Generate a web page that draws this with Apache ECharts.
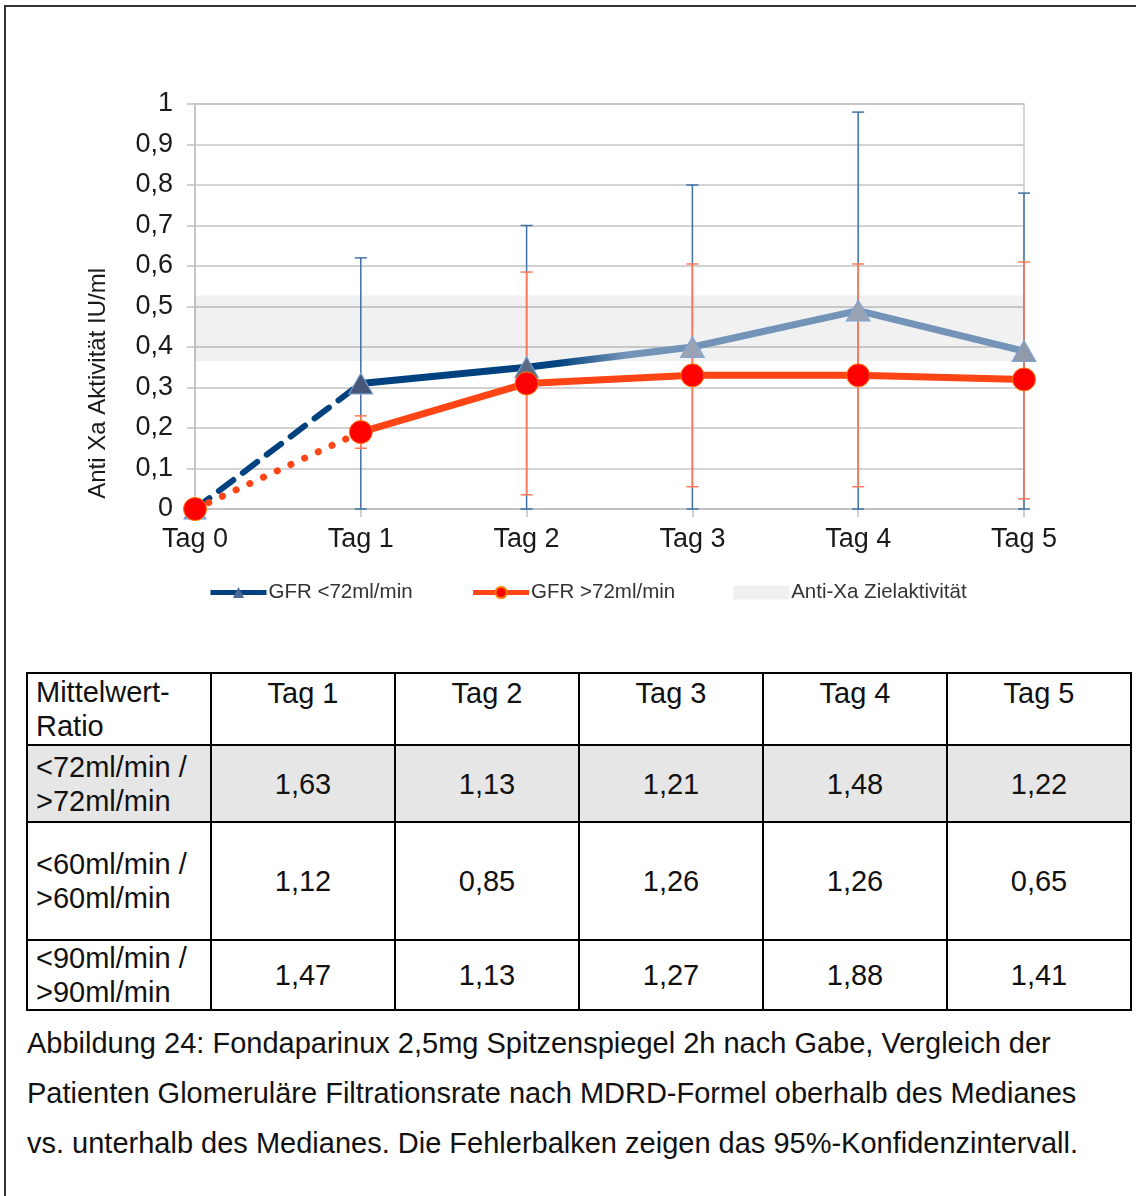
<!DOCTYPE html>
<html>
<head>
<meta charset="utf-8">
<script src="https://cdn.jsdelivr.net/npm/echarts@6/dist/echarts.min.js"></script>
<style>
  html, body { margin: 0; padding: 0; background: #fff; }
  body { width: 1136px; height: 1196px; position: relative; overflow: hidden;
         font-family: "Liberation Sans", Arial, sans-serif; color: #111; }
  #frame { position: absolute; left: 4px; top: 5px; width: 1300px; height: 1300px;
           border-left: 2px solid #333; border-top: 2px solid #333; }
  #chart { position: absolute; left: 0; top: 0; width: 1136px; height: 660px; }
  #ratios { position: absolute; left: 26px; top: 672px; border-collapse: collapse;
            font-size: 29px; line-height: 34px; }
  #ratios td { border: 2px solid #000; padding: 0 8px; text-align: center; vertical-align: middle; }
  #ratios td.lbl { text-align: left; }
  #ratios tr.head td { vertical-align: top; padding-top: 2px; }
  #ratios tr.head td.lbl { vertical-align: middle; padding-top: 0; }
  #ratios tr.shade td { background: #e6e6e6; }
  #caption { position: absolute; left: 27px; top: 1018px; font-size: 29px; line-height: 50px; }
</style>
</head>
<body>
<div id="frame"></div>
<div id="chart"></div>
<table id="ratios"></table>
<div id="caption"></div>
<script>
// Days of measurement
const days = ['Tag 0', 'Tag 1', 'Tag 2', 'Tag 3', 'Tag 4', 'Tag 5'];

// Mean anti-Xa activity (IU/ml), GFR below / above the median of 72 ml/min
const gfrBelow = [0, 0.31, 0.35, 0.40, 0.49, 0.39];
const gfrAbove = [0, 0.19, 0.31, 0.33, 0.33, 0.32];

// 95% confidence intervals (Tag 1 .. Tag 5)
const ciBelowLower = [0, 0, 0, 0, 0];
const ciBelowUpper = [0.62, 0.70, 0.80, 0.98, 0.78];
const ciAboveLower = [0.15, 0.035, 0.055, 0.055, 0.025];
const ciAboveUpper = [0.23, 0.585, 0.605, 0.605, 0.61];

// Target anti-Xa activity range
const targetRange = [0.365, 0.527];

// Y axis ticks
const yTicks = { min: 0, max: 1, interval: 0.1 };

// Ratio table
const ratioDays = ['Tag 1', 'Tag 2', 'Tag 3', 'Tag 4', 'Tag 5'];
const ratioRows = [
  ['<72ml/min /', '>72ml/min'],
  ['<60ml/min /', '>60ml/min'],
  ['<90ml/min /', '>90ml/min']
];
const ratioValues = [
  ['1,63', '1,13', '1,21', '1,48', '1,22'],
  ['1,12', '0,85', '1,26', '1,26', '0,65'],
  ['1,47', '1,13', '1,27', '1,88', '1,41']
];

const captionLines = [
  'Abbildung 24: Fondaparinux 2,5mg Spitzenspiegel 2h nach Gabe, Vergleich der',
  'Patienten Glomeruläre Filtrationsrate nach MDRD-Formel oberhalb des Medianes',
  'vs. unterhalb des Medianes. Die Fehlerbalken zeigen das 95%-Konfidenzintervall.'
];

const NAME_BELOW = 'GFR <72ml/min';
const NAME_ABOVE = 'GFR >72ml/min';
const NAME_TARGET = 'Anti-Xa Zielaktivität';

const FONT = '"Liberation Sans", Arial, sans-serif';
const blueDark = '#00427f';
const blueLight = '#7394b8';
const orange = '#ff4515';

function errorBarData(lower, upper) {
  return lower.map((lo, i) => [i + 1, lo, upper[i]]);
}

function errorBarSeries(lower, upper, color, z) {
  return {
    type: 'custom',
    z: z,
    silent: true,
    data: errorBarData(lower, upper),
    encode: { x: 0, y: [1, 2] },
    renderItem: function (params, api) {
      const x = api.value(0);
      const lo = api.coord([x, api.value(1)]);
      const hi = api.coord([x, api.value(2)]);
      const w = 6;
      const style = { stroke: color, lineWidth: 1.5 };
      return {
        type: 'group',
        children: [
          { type: 'line', shape: { x1: lo[0], y1: lo[1], x2: hi[0], y2: hi[1] }, style: style },
          { type: 'line', shape: { x1: hi[0] - w, y1: hi[1], x2: hi[0] + w, y2: hi[1] }, style: style },
          { type: 'line', shape: { x1: lo[0] - w, y1: lo[1], x2: lo[0] + w, y2: lo[1] }, style: style }
        ]
      };
    }
  };
}

// Triangle fill shades per day (darker at the start of the line)
const triFill = ['#8fb0d8', '#46587a', '#5c6a84', '#9aa3b3', '#9aa3b3', '#8f99aa'];

const belowDashed = gfrBelow.map((v, i) => i <= 1 ? {
  value: v,
  symbol: i === 0 ? 'triangle' : 'none',
  itemStyle: { color: triFill[0], borderColor: '#6d9bd0', borderWidth: 1 }
} : null);

const belowSolid = gfrBelow.map((v, i) => i >= 1 ? {
  value: v,
  itemStyle: { color: triFill[i], borderColor: '#7fa6d6', borderWidth: 1 }
} : null);

const aboveDotted = gfrAbove.map((v, i) => i <= 1 ? {
  value: v,
  symbol: i === 0 ? 'circle' : 'none'
} : null);

const aboveSolid = gfrAbove.map((v, i) => i >= 1 ? v : null);

const chart = echarts.init(document.getElementById('chart'), null, { renderer: 'canvas' });

chart.setOption({
  animation: false,
  textStyle: { fontFamily: FONT },
  grid: {
    left: 195, right: 112, top: 104, height: 405,
    show: true, borderColor: '#c8c8c8', borderWidth: 1.5, backgroundColor: 'transparent'
  },
  legend: {
    top: 577, left: 203,
    itemWidth: 56, itemHeight: 14, itemGap: 58,
    textStyle: { fontSize: 20.5, color: '#333', fontFamily: FONT, padding: [0, 0, 0, -3] },
    data: [
      { name: NAME_BELOW, itemStyle: { color: '#4a6a98', borderColor: '#7fa6d6' }, lineStyle: { color: blueDark, width: 5 } },
      { name: NAME_ABOVE, itemStyle: { color: '#ff0000' }, lineStyle: { color: orange, width: 5 } },
      { name: NAME_TARGET, icon: 'rect', itemStyle: { color: '#f0f0f0' } }
    ]
  },
  graphic: [{
    type: 'text',
    left: 86, top: 268,
    rotation: Math.PI / 2,
    style: { text: 'Anti Xa Aktivität IU/ml', fontSize: 24, fill: '#1a1a1a', fontFamily: FONT },
    originX: 0, originY: 0
  }],
  xAxis: {
    type: 'category',
    data: days,
    boundaryGap: false,
    axisLine: { lineStyle: { color: '#c0c0c0', width: 1.5 } },
    axisTick: { show: true, length: 8, lineStyle: { color: '#c0c0c0', width: 1.5 } },
    axisLabel: { fontSize: 27, color: '#1a1a1a', margin: 17 },
    splitLine: { show: false }
  },
  yAxis: {
    type: 'value',
    min: yTicks.min, max: yTicks.max, interval: yTicks.interval,
    axisLine: { show: true, lineStyle: { color: '#c0c0c0', width: 1.5 } },
    axisTick: { show: true, length: 8, lineStyle: { color: '#c0c0c0', width: 1.5 } },
    axisLabel: {
      fontSize: 27, color: '#1a1a1a', margin: 22,
      formatter: v => (Math.round(v * 10) / 10).toString().replace('.', ',')
    },
    splitLine: { lineStyle: { color: '#c4c4c4', width: 1.5 } }
  },
  series: [
    {
      name: NAME_TARGET,
      type: 'line',
      data: [],
      symbol: 'none',
      lineStyle: { color: '#f0f0f0', width: 6 },
      markArea: {
        silent: true,
        itemStyle: { color: 'rgba(0,0,0,0.055)' },
        data: [[{ yAxis: targetRange[0] }, { yAxis: targetRange[1] }]]
      },
      z: 1
    },
    errorBarSeries(ciBelowLower, ciBelowUpper, '#3f70a8', 2),
    errorBarSeries(ciAboveLower, ciAboveUpper, '#ff7a5a', 2),
    {
      name: 'below-lead',
      type: 'line',
      data: belowDashed,
      connectNulls: false,
      symbolSize: [22, 20],
      lineStyle: { color: blueDark, width: 6, type: [18, 12], cap: 'round' },
      z: 3
    },
    {
      name: NAME_BELOW,
      type: 'line',
      data: belowSolid,
      symbol: 'triangle',
      symbolSize: [24, 21],
      lineStyle: {
        width: 7,
        color: new echarts.graphic.LinearGradient(0, 0, 1, 0, [
          { offset: 0, color: blueDark },
          { offset: 0.3, color: blueDark },
          { offset: 0.4, color: blueLight },
          { offset: 1, color: blueLight }
        ])
      },
      itemStyle: { color: '#9aa3b3' },
      z: 3
    },
    {
      name: 'above-lead',
      type: 'line',
      data: aboveDotted,
      symbolSize: 23,
      itemStyle: { color: '#ff0000', borderColor: '#ff7a00', borderWidth: 1 },
      lineStyle: { color: orange, width: 7, type: [0.1, 15], cap: 'round' },
      z: 4
    },
    {
      name: NAME_ABOVE,
      type: 'line',
      data: aboveSolid,
      symbol: 'circle',
      symbolSize: 23,
      itemStyle: { color: '#ff0000', borderColor: '#ff7a00', borderWidth: 1 },
      lineStyle: { color: orange, width: 7 },
      z: 4
    }
  ]
});

// Ratio table
const table = document.getElementById('ratios');
const colW = [184, 184, 184, 184, 184, 184];
const rowH = [72, 77, 118, 69];
let html = '<tr class="head" style="height:' + rowH[0] + 'px">' +
  '<td class="lbl" style="width:' + (colW[0] - 18) + 'px">Mittelwert-<br>Ratio</td>';
ratioDays.forEach((d, i) => { html += '<td style="width:' + (colW[i + 1] - 18) + 'px">' + d + '</td>'; });
html += '</tr>';
ratioRows.forEach((r, ri) => {
  html += '<tr' + (ri === 0 ? ' class="shade"' : '') + ' style="height:' + rowH[ri + 1] + 'px">';
  html += '<td class="lbl">' + r.map(s => s.replace(/</g, '&lt;').replace(/>/g, '&gt;')).join('<br>') + '</td>';
  ratioValues[ri].forEach(v => { html += '<td>' + v + '</td>'; });
  html += '</tr>';
});
table.innerHTML = html;

document.getElementById('caption').innerHTML = captionLines.join('<br>');
</script>
</body>
</html>
